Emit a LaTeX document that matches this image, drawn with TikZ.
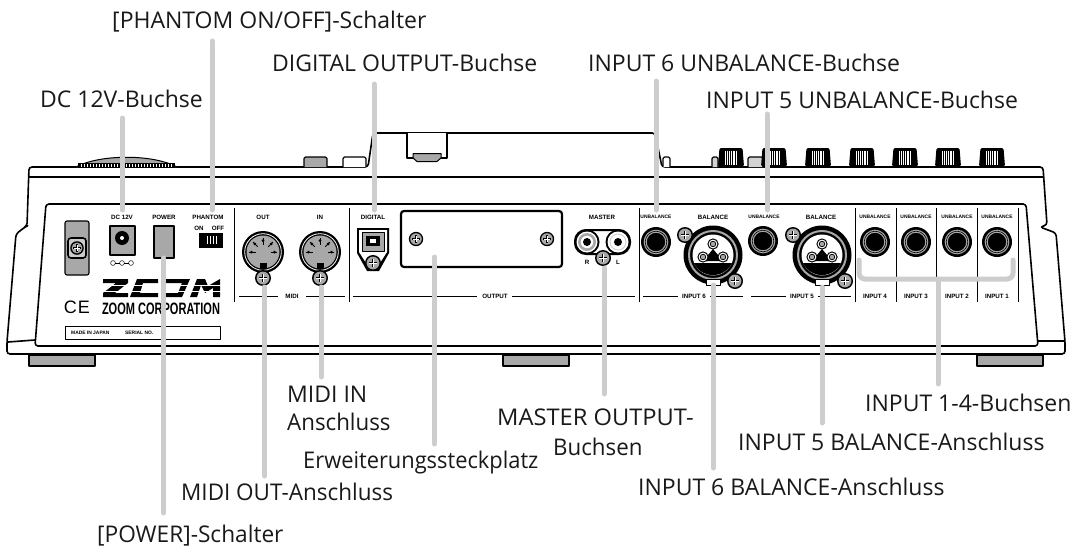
\documentclass[tikz,border=0pt]{standalone}
\usepackage{graphicx}
\usepackage{fontspec}
\setmainfont{Open Sans}
\newfontfamily\panelfont{Liberation Sans}
\definecolor{leadergray}{HTML}{CDCDCD}
\definecolor{partgray}{HTML}{A8A8A8}
\begin{document}
\begin{tikzpicture}[
    x=1pt,y=-1pt,
    line join=round,
    every node/.style={inner sep=0pt},
    callout/.style={anchor=base west,font=\fontsize{23}{26}\selectfont,text=black!90},
    panel/.style={font=\panelfont\bfseries\fontsize{6.2}{7}\selectfont},
    narrow/.style={font=\panelfont\bfseries\fontsize{4.9}{7}\selectfont},
    outline/.style={line width=1.6pt},
    divider/.style={line width=.8pt},
    groupline/.style={line width=.6pt},
    leader/.style={leadergray,line width=5pt,line cap=round},
    screw/.pic={
        \fill[black] (0,0) circle[radius=8];
        \fill[partgray] (0,0) circle[radius=6.4];
        \draw[black,line width=2.2pt] (-4.2,0) -- (4.2,0) (0,-4.2) -- (0,4.2);
        \draw[white,line width=.8pt] (-3.6,0) -- (3.6,0) (0,-3.6) -- (0,3.6);
    },
    jack/.pic={
        \fill[black] (0,0) circle[radius=15];
        \draw[partgray,line width=3pt] (0,0) circle[radius=10.8];
        \draw[black,line width=.6pt] (0,0) circle[radius=10.8];
        \fill[black] (0,0) circle[radius=7.5];
    },
    midisocket/.pic={
        \fill[black] (0,0) circle[radius=21];
        \draw[white,line width=.8pt] (0,0) circle[radius=18.3];
        \fill[partgray] (0,0) circle[radius=16.5];
        \foreach \a in {180,225,270,315,360} {
            \fill[black] (\a:11.5) circle[radius=1.5];
            \draw[black,line width=.9pt] (\a:7.5) -- (\a:14);
        }
        \fill[black] (-3.5,11) rectangle (3.5,16.5);
    },
    xlrsocket/.pic={
        \fill[black] (0,0) circle[radius=29.5];
        \draw[partgray,line width=2pt] (0,0) circle[radius=24];
        \fill[white] (0,0) circle[radius=20.5];
        \fill[black] (-19,8) -- (19,8) arc[start angle=25,end angle=155,radius=21] -- cycle;
        \fill[black] (0,-6) -- (-10,6) -- (10,6) -- cycle;
        \foreach \px/\py in {0/-11,-10/2,10/2} {
            \fill[black] (\px,\py) circle[radius=5.6];
            \fill[white] (\px,\py) circle[radius=4.4];
            \fill[black] (\px,\py) circle[radius=3.2];
            \fill[partgray] (\px,\py) circle[radius=2.2];
        }
        \filldraw[fill=white,draw=black,line width=1pt] (-7,24) rectangle (7,30);
    }]
    \useasboundingbox (0,0) rectangle (1074,549);
    \draw[outline,rounded corners=3pt] (7,342) -- (16,234) -- (25,227) -- (27,226) -- (29,167)
        -- (368,167) -- (373,133) -- (655,133) -- (662,167) -- (1043,167)
        -- (1047,225) -- (1040,227) -- (1056,233) -- (1065,342) -- (1065,354) -- (7,354) -- cycle;
    \draw[outline] (28,177) -- (1044,177);
    \draw[outline] (8,342) -- (35,340) (1038,341) -- (1065,341);
    \draw[outline,rounded corners=3pt] (46,204) -- (1026,204) -- (1038,346) -- (35,346) -- cycle;
    \foreach \x in {29,503,977}
        \filldraw[fill=partgray,draw=black,line width=1.2pt] (\x,355) rectangle (\x+66,366);
    \fill[partgray] (76,167) .. controls (100,154) and (153,154) .. (177,167) -- cycle;
    \draw[black,line width=1pt] (76,167) .. controls (100,154) and (153,154) .. (177,167);
    \fill[black] (78,163) rectangle (175,167.5);
    \foreach \i in {0,...,30}
        \draw[white,line width=.5pt] (81+3*\i,164) -- (81+3*\i,166.5);
    \foreach \x/\w/\c in {304/23/partgray,343/23/white,663/7/white,712/6/partgray!50,748/15/partgray!50}
        \filldraw[fill=\c,draw=black,line width=1.1pt,rounded corners=1.5pt] (\x,167) -- (\x,157) -- (\x+\w,157) -- (\x+\w,167);
    \filldraw[fill=white,draw=black,outline] (407,133) -- (407,158) -- (447,158) -- (447,133);
    \filldraw[fill=partgray,draw=black,line width=1pt] (413,158) -- (413,153.5) -- (441,153.5) -- (441,158) -- (437,161.5) -- (417,161.5) -- cycle;
    \foreach \x in {731,774,818,862,905,948,992} {
        \fill[black,rounded corners=1.5pt] (\x-13,166.5) -- (\x-11.5,148) -- (\x+11.5,148) -- (\x+13,166.5) -- cycle;
        \foreach \d in {-5.4,-3.6,...,5.6}
            \draw[white,line width=.55pt] (\x+\d,150.5) -- (\x+\d,164.5);
    }
    \foreach \x in {234,349,639,855,896,936,977,1018}
        \draw[divider] (\x,208) -- (\x,302);
    \filldraw[fill=partgray,draw=black,line width=1.1pt,rounded corners=2pt] (65,221) rectangle (89,275);
    \filldraw[fill=partgray!60,draw=black,line width=1.6pt,rounded corners=3pt] (68,238) rectangle (86,258);
    \pic[scale=.85] at (77,248) {screw};
    \node[panel] (dcText) at (122,217) {DC 12V};
    \filldraw[fill=partgray,draw=black,line width=1.8pt] (110,226) rectangle (135,255);
    \fill[black] (122,238) circle[radius=7];
    \fill[white] (122,238) circle[radius=2];
    \foreach \x in {113,122,131}
        \draw[line width=.5pt] (\x,263) circle[radius=2.4];
    \draw[line width=.5pt] (115.4,263) -- (119.6,263) (124.4,263) -- (128.6,263);
    \node[panel] (powerText) at (164,217) {POWER};
    \filldraw[fill=partgray,draw=black,line width=1.6pt] (154,226) rectangle (174,258);
    \node[panel] (phantomText) at (208,217) {PHANTOM};
    \node[panel] (onText) at (199,228) {ON};
    \node[panel] (offText) at (218,228) {OFF};
    \fill[black] (199,233) rectangle (223,248);
    \fill[white] (207,236) rectangle (218,244);
    \foreach \i in {0,...,6}
        \draw[black,line width=.6pt] (208+1.5*\i,236) -- (208+1.5*\i,244);
    \node[panel] (outText) at (263,217) {OUT};
    \node[panel] (inText) at (320,217) {IN};
    \pic at (263,252) {midisocket};
    \pic at (320,252) {midisocket};
    \pic[scale=1] at (263,278) {screw};
    \pic[scale=1] at (320,278) {screw};
    \node[panel] (midiText) at (292,296) {MIDI};
    \draw[groupline] (239,296) -- (278,296) (306,296) -- (345,296);
    \fill[black] (103,279) -- (128,279) -- (128,283) -- (115,293) -- (128,293) -- (128,297) -- (103,297) -- (103,293) -- (116,283) -- (103,283) -- cycle;
    \fill[black] (137,279) -- (158,279) -- (158,283) -- (143,283) -- (140,293) -- (158,293) -- (158,297) -- (130,297) -- cycle;
    \fill[black] (161,279) -- (190,279) -- (182,297) -- (161,297) -- (161,293) -- (178,293) -- (182,283) -- (161,283) -- cycle;
    \fill[black] (190,297) -- (197,279) -- (205,279) -- (208,286) -- (220,279) -- (220,297) -- (213,297) -- (213,288) -- (205,293) -- (201,285) -- (197,297) -- cycle;
    \foreach \y in {285,291}
        \draw[white,line width=.6pt] (102,\y) -- (221,\y);
    \node (corpText) at (161,308.5) {\resizebox{118pt}{11.5pt}{\panelfont\bfseries ZOOM CORPORATION}};
    \node (ceText) at (77,307) {\panelfont\fontsize{18}{18}\selectfont C\kern1pt E};
    \draw[line width=1pt] (65,326) rectangle (220,339);
    \node[narrow,anchor=west] (madeText) at (71,332.5) {MADE IN JAPAN};
    \node[narrow,anchor=west] (serialText) at (125,332.5) {SERIAL NO.};
    \node[panel] (digitalText) at (373,217) {DIGITAL};
    \fill[black] (357,228) -- (389,228) -- (389,253) -- (379,271) -- (367,271) -- (357,253) -- cycle;
    \fill[white] (359,230) -- (387,230) -- (387,252) -- (378,266) -- (368,266) -- (359,252) -- cycle;
    \filldraw[fill=partgray,draw=black,line width=1pt] (362,232) rectangle (384,251);
    \fill[black] (366,236) rectangle (380,246);
    \fill[white] (370,239) rectangle (376,243);
    \pic[scale=1] at (373,263) {screw};
    \draw[line width=2.2pt,rounded corners=3pt] (401,211) rectangle (562,267);
    \pic[scale=.9] at (416,239) {screw};
    \pic[scale=.9] at (547,239) {screw};
    \node[panel] (masterText) at (602,217) {MASTER};
    \draw[line width=2pt,rounded corners=11pt] (575,230) rectangle (630,254);
    \fill[black] (587,242) circle[radius=12.5];
    \fill[white] (587,242) circle[radius=10.5];
    \fill[partgray] (587,242) circle[radius=9];
    \fill[white] (587,242) circle[radius=6.2];
    \fill[black] (587,242) circle[radius=4];
    \fill[black] (618,242) circle[radius=12.5];
    \fill[white] (618,242) circle[radius=10.5];
    \draw[partgray!60,line width=.8pt] (618,242) circle[radius=8];
    \fill[white] (618,242) circle[radius=6.2];
    \fill[black] (618,242) circle[radius=4];
    \pic[scale=1] at (603,258) {screw};
    \node[panel] (rText) at (587,262) {R};
    \node[panel] (lText) at (618,262) {L};
    \node[panel] (outputText) at (495,296) {OUTPUT};
    \draw[groupline] (353,296) -- (477,296) (512,296) -- (635,296);
    \node[narrow] (unbSix) at (656,217) {UNBALANCE};
    \node[narrow] (unbFive) at (764,217) {UNBALANCE};
    \pic at (656,242) {jack};
    \pic at (763,241) {jack};
    \node[panel] (balSix) at (713,217) {BALANCE};
    \node[panel] (balFive) at (821,217) {BALANCE};
    \pic at (713,255) {xlrsocket};
    \pic at (822,255) {xlrsocket};
    \pic at (685,235) {screw};
    \pic at (735,281) {screw};
    \pic at (793,235) {screw};
    \pic at (845,281) {screw};
    \node[panel] (groupSix) at (694,296) {INPUT 6};
    \node[panel] (groupFive) at (802,296) {INPUT 5};
    \draw[groupline] (643,296) -- (678,296) (710,296) -- (743,296);
    \draw[groupline] (751,296) -- (786,296) (818,296) -- (851,296);
    \foreach \x/\n in {875/4,916/3,957/2,997/1} {
        \node[narrow] (unbal\n) at (\x,217) {UNBALANCE};
        \pic at (\x,242) {jack};
        \node[panel] (input\n) at (\x,296) {INPUT \n};
    }
    \node[callout] (phantomLabel) at (112,28) {[PHANTOM ON/OFF]-Schalter};
    \node[callout] (digitalLabel) at (272,71) {DIGITAL OUTPUT-Buchse};
    \node[callout] (dcLabel) at (40,107) {DC 12V-Buchse};
    \node[callout] (unbSixLabel) at (588,71) {INPUT 6 UNBALANCE-Buchse};
    \node[callout] (unbFiveLabel) at (706,108) {INPUT 5 UNBALANCE-Buchse};
    \node[callout] (midiInLabel) at (287,402) {MIDI IN};
    \node[callout] (midiInLabelB) at (287,430) {\scalebox{.97}[1]{Anschluss}};
    \node[callout] (slotLabel) at (303,468) {\scalebox{.95}[1]{Erweiterungssteckplatz}};
    \node[callout] (midiOutLabel) at (181,500) {\scalebox{.977}[1]{MIDI OUT-Anschluss}};
    \node[callout] (powerLabel) at (97,542) {\scalebox{.985}[1]{[POWER]-Schalter}};
    \node[callout] (masterLabel) at (497,425) {\scalebox{1.03}[1]{MASTER OUTPUT-}};
    \node[callout] (masterLabelB) at (553,455) {\scalebox{.97}[1]{Buchsen}};
    \node[callout] (inputsLabel) at (865,411) {INPUT 1-4-Buchsen};
    \node[callout] (balFiveLabel) at (738,450) {INPUT 5 BALANCE-Anschluss};
    \node[callout] (balSixLabel) at (638,495) {INPUT 6 BALANCE-Anschluss};
    \coordinate (phantomEnd) at (212,210);
    \coordinate (phantomTop) at (212,41);
    \coordinate (digitalEnd) at (374,210);
    \coordinate (digitalTop) at (374,84);
    \coordinate (dcEnd) at (122.5,210);
    \coordinate (dcTop) at (122.5,118);
    \coordinate (unbSixEnd) at (656,210);
    \coordinate (unbSixTop) at (656,81);
    \coordinate (unbFiveEnd) at (767,210);
    \coordinate (unbFiveTop) at (767,114);
    \coordinate (powerEnd) at (163.5,258);
    \coordinate (powerTop) at (163.5,513);
    \coordinate (midiOutEnd) at (264.5,287);
    \coordinate (midiOutTop) at (264.5,476);
    \coordinate (midiInEnd) at (321,287);
    \coordinate (midiInTop) at (321,377);
    \coordinate (slotEnd) at (434.5,257);
    \coordinate (slotTop) at (434.5,444);
    \coordinate (masterEnd) at (604,268);
    \coordinate (masterTop) at (604,394);
    \coordinate (balSixEnd) at (713.5,285);
    \coordinate (balSixTop) at (713.5,468);
    \coordinate (balFiveEnd) at (822,287);
    \coordinate (balFiveTop) at (822,423);
    \coordinate (inputsTop) at (938,384);
    \coordinate (inputsMid) at (938,279);
    \coordinate (inputsLeft) at (859,260);
    \coordinate (inputsRight) at (1013,260);
    \foreach \n in {phantom,digital,dc,unbSix,unbFive,power,midiOut,midiIn,slot,master,balSix,balFive}
        \draw[leader] (\n Top) -- (\n End);
    \draw[leader,rounded corners=6pt] (inputsLeft) |- (inputsMid) -| (inputsRight);
    \draw[leader] (inputsMid) -- (inputsTop);
\end{tikzpicture}
\end{document}
